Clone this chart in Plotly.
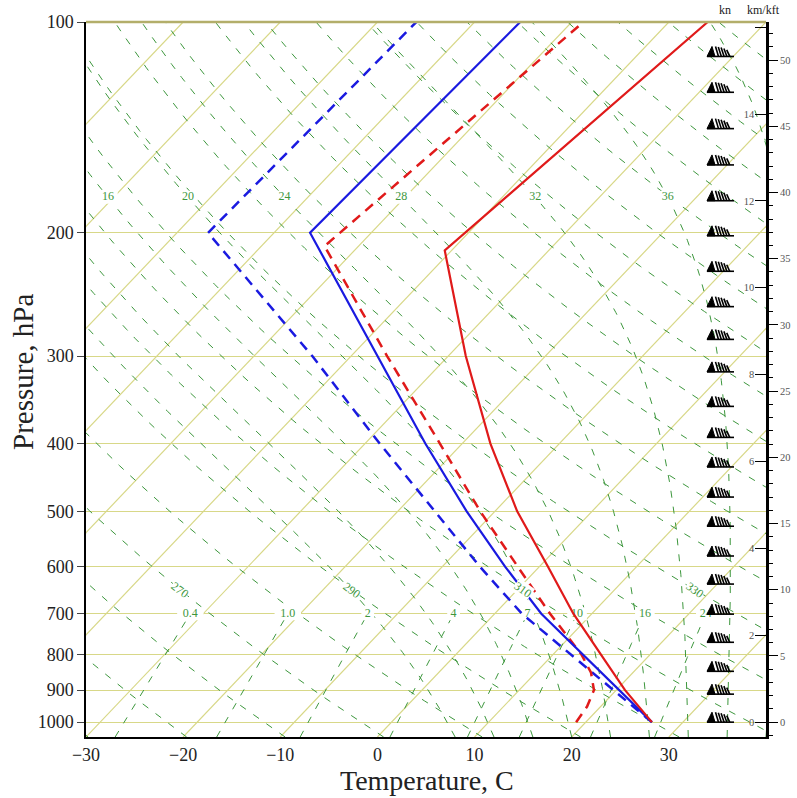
import numpy as np
import plotly.graph_objects as go

# ---------------- sounding curves (deg C at hPa) ----------------
red_p = [1000, 900, 800, 700, 600, 500, 400, 300, 212, 100]
red_t = [26.8, 20.9, 14.9, 8.1, 0.9, -7.7, -17.1, -28.2, -40.7, -36.0]

red_dash_p = [1000, 950, 900, 850, 800, 700, 600, 500, 400, 300, 209, 100]
red_dash_t = [19.0, 18.6, 17.7, 15.7, 12.9, 5.7, -2.2, -11.5, -22.3, -36.3, -53.5, -48.8]

blue_p = [1000, 900, 800, 700, 600, 500, 400, 300, 200, 100]
blue_t = [26.8, 20.3, 13.1, 4.8, -3.5, -12.9, -23.8, -37.3, -56.3, -55.3]

blue_dash_p = [1000, 900, 800, 700, 600, 500, 400, 300, 200, 100]
blue_dash_t = [26.8, 19.7, 11.7, 2.8, -6.1, -16.2, -28.5, -44.0, -66.8, -66.0]

barb_p = [112, 126, 142, 160, 180, 202, 227, 255, 284, 316, 354, 392,
          432, 477, 525, 579, 635, 701, 769, 846, 912, 1000]

# ---------------- axes / reference lines ----------------
pressure_ticks = [100, 200, 300, 400, 500, 600, 700, 800, 900, 1000]
temp_ticks = [-30, -20, -10, 0, 10, 20, 30, 40]
km_ticks = [0, 2, 4, 6, 8, 10, 12, 14, 16]
kft_ticks = [0, 5, 10, 15, 20, 25, 30, 35, 40, 45, 50]

isotherms = list(range(-100, 41, 10))
dry_adiabats = list(range(240, 480, 10))
moist_adiabats = [8, 12, 16, 20, 24, 28, 32, 36, 40]
mixing_ratios = [0.4, 1.0, 2, 4, 7, 10, 16, 24]
mixing_labels = ["0.4", "1.0", "2", "4", "7", "10", "16", "24"]
dry_labels = [270, 290, 310, 330]
moist_labels = [16, 20, 24, 28, 32, 36]

# ---------------- geometry ----------------
W, H = 797, 798
ML, MR, MT, MB = 86, 31, 22, 61
PW, PH = W - ML - MR, H - MT - MB
P_BOT, P_TOP = 1050.0, 100.0
T_MIN, T_MAX = -30.0, 40.0
SKEW = (T_MAX - T_MIN) / np.log10(P_BOT / P_TOP)
PX_X = PW / (T_MAX - T_MIN)
PX_Y = PH / np.log10(P_BOT / P_TOP)
H_SCALE = 7.0  # km scale height for the height axis
P_MOIST_REF = P_BOT  # moist adiabats labelled by their temperature at chart base

SERIF = "Liberation Serif"
GREEN = "#3d973d"
YELLOW = "#d8d888"


def skx(t, p):
    return np.asarray(t, float) + SKEW * np.log10(P_BOT / np.asarray(p, float))


def offset(X, p, dx, dy):
    """shift a data point by pixels (dy positive = down)"""
    return X + dx / PX_X, p * 10 ** (dy / PX_Y)


def es(tc):
    return 6.112 * np.exp(17.67 * tc / (tc + 243.5))


def moist_dTdp(p, T):
    tc = T - 273.15
    e = es(tc)
    rs = 0.622 * e / (p - e)
    return (287.04 * T + 2.501e6 * rs) / (p * (1005.7 + 2.501e6 ** 2 * rs * 0.622 / (287.04 * T * T)))


def integrate(p0, T0, p1, n):
    ps = np.linspace(p0, p1, n + 1)
    Ts = [T0]
    T = T0
    for i in range(n):
        h = ps[i + 1] - ps[i]
        p = ps[i]
        k1 = moist_dTdp(p, T)
        k2 = moist_dTdp(p + h / 2, T + h / 2 * k1)
        k3 = moist_dTdp(p + h / 2, T + h / 2 * k2)
        k4 = moist_dTdp(p + h, T + h * k3)
        T = T + h / 6 * (k1 + 2 * k2 + 2 * k3 + k4)
        Ts.append(T)
    return ps, np.array(Ts)


def moist_line(thw):
    p, t = integrate(P_MOIST_REF, thw + 273.15, P_TOP, 190)
    return p, t - 273.15


def td_from_w(w, p):
    e = w * np.asarray(p, float) / (622.0 + w)
    a = np.log(e / 6.112)
    return 243.5 * a / (17.67 - a)


def joined(lines):
    xs, ys = [], []
    for x, y in lines:
        xs += list(x) + [None]
        ys += list(y) + [None]
    return xs, ys


fig = go.Figure()

# isotherms
iso = []
for t in isotherms:
    p = np.array([P_BOT, P_TOP])
    iso.append((skx([t, t], p), p))
x, y = joined(iso)
fig.add_trace(go.Scatter(x=x, y=y, mode="lines", line=dict(color=YELLOW, width=1.2),
                         hoverinfo="skip", showlegend=False))

# dry adiabats
pp = np.geomspace(P_BOT, P_TOP, 80)
dry = []
for th in dry_adiabats:
    t = th * (pp / 1000.0) ** 0.2857 - 273.15
    dry.append((skx(t, pp), pp))
x, y = joined(dry)
fig.add_trace(go.Scatter(x=x, y=y, mode="lines", line=dict(color=GREEN, width=1, dash="7px,9px"),
                         hoverinfo="skip", showlegend=False))

# moist adiabats
moist = {}
ml = []
for thw in moist_adiabats:
    p, t = moist_line(thw)
    moist[thw] = (p, t)
    ml.append((skx(t, p), p))
x, y = joined(ml)
fig.add_trace(go.Scatter(x=x, y=y, mode="lines", line=dict(color=GREEN, width=1, dash="7px,9px"),
                         hoverinfo="skip", showlegend=False))

# mixing ratio lines
pm = np.linspace(P_BOT, 700, 30)
mr = []
for w in mixing_ratios:
    mr.append((skx(td_from_w(w, pm), pm), pm))
x, y = joined(mr)
fig.add_trace(go.Scatter(x=x, y=y, mode="lines", line=dict(color=GREEN, width=1, dash="7px,9px"),
                         hoverinfo="skip", showlegend=False))

# labels drawn beneath the sounding curves (white boxes + text)
lab_x, lab_p, lab_t = [], [], []
for w, s in zip(mixing_ratios, mixing_labels):
    lab_x.append(float(skx(td_from_w(w, 700.0), 700.0)))
    lab_p.append(700.0)
    lab_t.append(s)
P_MLAB = 178.0
for thw in moist_labels:
    p, t = moist[thw]
    tl = np.interp(np.log(P_MLAB), np.log(p[::-1]), t[::-1])
    lab_x.append(float(skx(tl, P_MLAB)))
    lab_p.append(P_MLAB)
    lab_t.append(str(thw))

boxes = []
for X, p, s in zip(lab_x, lab_p, lab_t):
    hw = 3.4 * len(s) + 3
    hh = 6.5
    bx, by = [], []
    for dx, dy in [(-hw, -hh), (hw, -hh), (hw, hh), (-hw, hh), (-hw, -hh)]:
        a, b = offset(X, p, dx, dy)
        bx.append(a)
        by.append(b)
    boxes.append((bx, by))
x, y = joined(boxes)
fig.add_trace(go.Scatter(x=x, y=y, mode="lines", fill="toself", fillcolor="white",
                         line=dict(width=0, color="white"), hoverinfo="skip", showlegend=False))
fig.add_trace(go.Scatter(x=lab_x, y=lab_p, mode="text", text=lab_t,
                         textfont=dict(family=SERIF, size=12, color=GREEN),
                         hoverinfo="skip", showlegend=False))

# sounding curves
fig.add_trace(go.Scatter(x=skx(blue_dash_t, blue_dash_p), y=blue_dash_p, mode="lines",
                         line=dict(color="#1a1ae0", width=2.5, dash="10px,7px"), showlegend=False))
fig.add_trace(go.Scatter(x=skx(red_dash_t, red_dash_p), y=red_dash_p, mode="lines",
                         line=dict(color="#e01a1a", width=2.5, dash="10px,7px"), showlegend=False))
fig.add_trace(go.Scatter(x=skx(blue_t, blue_p), y=blue_p, mode="lines",
                         line=dict(color="#1a1ae0", width=2.2), showlegend=False))
fig.add_trace(go.Scatter(x=skx(red_t, red_p), y=red_p, mode="lines",
                         line=dict(color="#e01a1a", width=2.2), showlegend=False))

# wind barbs
BARB_RIGHT_PX = 32  # distance of staff end from right frame
staff, flags, ticks_ = [], [], []
for p in barb_p:
    Xr = T_MAX - BARB_RIGHT_PX / PX_X
    X0 = Xr - 27 / PX_X
    a0, b0 = offset(X0, p, 0, 0)
    a1, b1 = offset(X0, p, 27, 0)
    staff.append(([a0, a1], [b0, b1]))
    fx, fy = [], []
    for dx, dy in [(0, 0), (5, -10), (8, 0), (0, 0)]:
        a, b = offset(X0, p, dx, dy)
        fx.append(a)
        fy.append(b)
    flags.append((fx, fy))
    for i, hgt in enumerate([10, 9.5, 9, 8, 6.5]):
        a, b = offset(X0, p, 8.5 + 2.8 * i, -hgt)
        c, d = offset(X0, p, 11.5 + 2.8 * i, 0)
        ticks_.append(([a, c], [b, d]))
x, y = joined(staff + ticks_)
fig.add_trace(go.Scatter(x=x, y=y, mode="lines", line=dict(color="black", width=1.6),
                         hoverinfo="skip", showlegend=False))
x, y = joined(flags)
fig.add_trace(go.Scatter(x=x, y=y, mode="lines", fill="toself", fillcolor="black",
                         line=dict(color="black", width=1), hoverinfo="skip", showlegend=False))

# invisible traces to activate height axes
z_bot = H_SCALE * np.log(1000.0 / P_BOT)
z_top = H_SCALE * np.log(1000.0 / P_TOP)
fig.add_trace(go.Scatter(x=[T_MAX], y=[0], yaxis="y2", mode="markers", marker=dict(opacity=0),
                         hoverinfo="skip", showlegend=False))
fig.add_trace(go.Scatter(x=[T_MAX], y=[0], yaxis="y3", mode="markers", marker=dict(opacity=0),
                         hoverinfo="skip", showlegend=False))

# dry adiabat labels (rotated)
P_DLAB = 647.0
annotations = []
for th in dry_labels:
    t = th * (P_DLAB / 1000.0) ** 0.2857 - 273.15
    annotations.append(dict(x=float(skx(t, P_DLAB)), y=np.log10(P_DLAB), xref="x", yref="y",
                            text=str(th), showarrow=False, textangle=36, bgcolor="white",
                            borderpad=0, font=dict(family=SERIF, size=12, color=GREEN)))
annotations.append(dict(x=(725 - ML) / PW, y=1 + (MT - 10) / PH, xref="paper", yref="paper",
                        text="kn", showarrow=False, yanchor="middle", xanchor="center",
                        font=dict(family=SERIF, size=12, color="#222")))
annotations.append(dict(x=(763 - ML) / PW, y=1 + (MT - 10) / PH, xref="paper", yref="paper",
                        text="km/kft", showarrow=False, yanchor="middle", xanchor="center",
                        font=dict(family=SERIF, size=12, color="#222")))
# axis titles
annotations.append(dict(x=(427 - ML) / PW, y=-(780 - MT - PH) / PH, xref="paper", yref="paper",
                        text="Temperature, C", showarrow=False, xanchor="center", yanchor="middle",
                        font=dict(family=SERIF, size=28, color="#222")))
annotations.append(dict(x=-(ML - 23) / PW, y=1 - (372 - MT) / PH, xref="paper", yref="paper",
                        text="Pressure, hPa", showarrow=False, xanchor="center", yanchor="middle",
                        textangle=-90, font=dict(family=SERIF, size=29, color="#222")))

fig.update_layout(
    width=W, height=H, margin=dict(l=ML, r=MR, t=MT, b=MB, autoexpand=False),
    paper_bgcolor="white", plot_bgcolor="white",
    showlegend=False,
    annotations=annotations,
    xaxis=dict(range=[T_MIN, T_MAX], tickvals=temp_ticks, showgrid=False, zeroline=False,
               automargin=False,
               showline=True, linecolor="black", linewidth=2, ticks="",
               tickfont=dict(family=SERIF, size=18, color="#222")),
    yaxis=dict(type="log", range=[np.log10(P_BOT), np.log10(P_TOP)], tickvals=pressure_ticks,
               ticktext=[str(v) for v in pressure_ticks], showgrid=True, gridcolor=YELLOW,
               gridwidth=1.2, zeroline=False, showline=True, linecolor="black", linewidth=1.5,
               automargin=False,
               ticks="outside", ticklen=7, tickcolor="#444",
               tickfont=dict(family=SERIF, size=18, color="#222")),
    yaxis2=dict(overlaying="y", side="right", anchor="x", range=[z_bot, z_top], automargin=False,
                tickvals=km_ticks, showgrid=False, zeroline=False, showline=True,
                linecolor="black", linewidth=2.5, ticks="inside", ticklen=11, tickcolor="black",
                ticklabelposition="inside", tickfont=dict(family=SERIF, size=10.5, color="#555")),
    yaxis3=dict(overlaying="y", side="right", anchor="x", automargin=False,
                range=[z_bot / 0.3048, z_top / 0.3048], tickvals=kft_ticks, showgrid=False,
                zeroline=False, showline=False, ticks="outside", ticklen=11, tickcolor="black",
                minor=dict(dtick=1, ticklen=6, ticks="outside", tickcolor="black"),
                tickfont=dict(family=SERIF, size=10.5, color="#555")),
    shapes=[dict(type="line", xref="paper", yref="paper", x0=0, x1=1, y0=1, y1=1,
                 line=dict(color="#b3ae6a", width=2.5))],
)

fig.write_html("out.html")
